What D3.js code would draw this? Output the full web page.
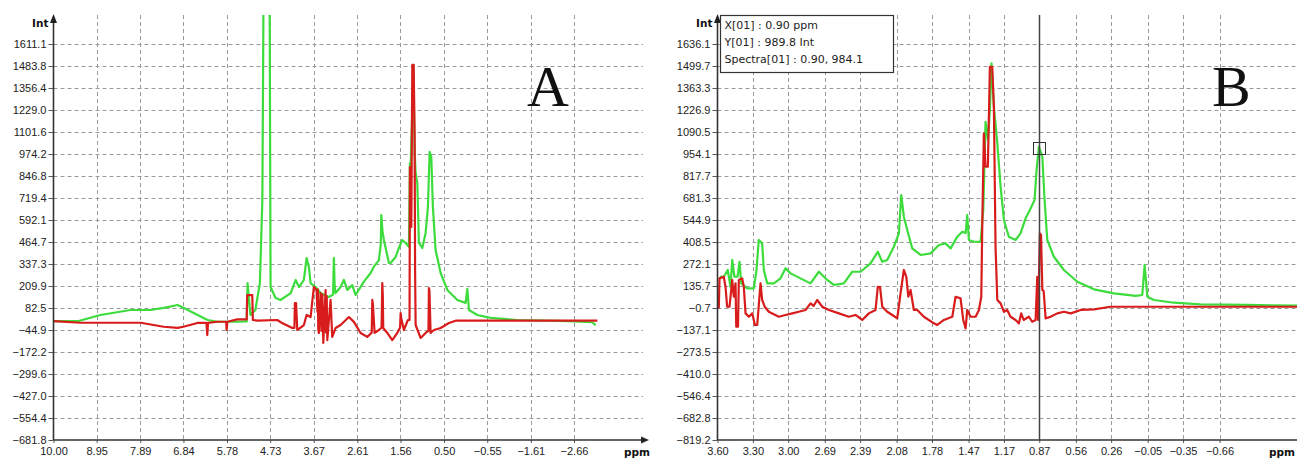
<!DOCTYPE html>
<html>
<head>
<meta charset="utf-8">
<script src="https://cdn.jsdelivr.net/npm/d3@7"></script>
<style>
  body { margin: 0; background: #fff; }
  svg { display: block; font-family: 'DejaVu Sans', sans-serif; }
  .tick text { fill: #222; font-size: 11px; }
  .tick line { stroke: #555; }
  .grid line { stroke: #9a9a9a; stroke-width: 1; stroke-dasharray: 4 3; }
  .axis-line { stroke: #333; stroke-width: 1.6; }
  .spec { fill: none; stroke-width: 2.2; stroke-linejoin: round; }
  .green { stroke: #3cdc3c; }
  .red { stroke: #d81c1c; }
</style>
</head>
<body>
<div class="container"></div>
<script>
// tick labels as printed on both panels
const leftPpmTicks = [10.00, 8.95, 7.89, 6.84, 5.78, 4.73, 3.67, 2.61, 1.56, 0.50, -0.55, -1.61, -2.66]
const leftIntTicks = [1611.1, 1483.8, 1356.4, 1229.0, 1101.6, 974.2, 846.8, 719.4, 592.1, 464.7, 337.3, 209.9, 82.5, -44.9, -172.2, -299.6, -427.0, -554.4, -681.8]
const rightPpmTicks = [3.60, 3.30, 3.00, 2.69, 2.39, 2.08, 1.78, 1.47, 1.17, 0.87, 0.56, 0.26, -0.05, -0.35, -0.66]
const rightIntTicks = [1636.1, 1499.7, 1363.3, 1226.9, 1090.5, 954.1, 817.7, 681.3, 544.9, 408.5, 272.1, 135.7, -0.7, -137.1, -273.5, -410.0, -546.4, -682.8, -819.2]

// spectra, [ppm, intensity]
const leftGreen = [
  [10.00, 7], [9.39, 7], [8.86, 42], [8.13, 71], [7.64, 71], [7.32, 83], [6.98, 100], [6.84, 84], [6.59, 54],
  [6.25, 13], [6.01, 3], [5.52, 3], [5.30, 5], [5.28, 227], [5.21, 42], [5.09, 71], [4.98, 227], [4.92, 708],
  [4.88, 2400], [4.75, 2400], [4.72, 204], [4.60, 140], [4.48, 129], [4.23, 169], [4.11, 245], [4.03, 204],
  [3.91, 245], [3.844, 372], [3.788, 320], [3.747, 227], [3.626, 204], [3.504, 169], [3.302, 146], [3.20, 160],
  [3.180, 372], [3.160, 200], [3.139, 169], [3.017, 204], [2.937, 245], [2.855, 187], [2.733, 215], [2.652, 158],
  [2.450, 235], [2.287, 285], [2.207, 322], [2.085, 360], [2.04, 450], [2.027, 621], [2.00, 530], [1.964, 476],
  [1.842, 343], [1.801, 343], [1.679, 378], [1.599, 430], [1.516, 476], [1.436, 459], [1.355, 437], [1.331, 922],
  [1.314, 899], [1.270, 1250], [1.248, 1490], [1.217, 1000], [1.192, 864], [1.151, 806], [1.112, 459], [1.030, 430],
  [0.949, 517], [0.893, 667], [0.852, 986], [0.811, 957], [0.772, 667], [0.706, 418], [0.584, 285], [0.421, 187],
  [0.178, 129], [-0.024, 112], [-0.066, 193], [-0.105, 71], [-0.309, 42], [-0.633, 25], [-1.282, 13], [-2.499, 7],
  [-3.10, 0], [-3.187, -16]
]
const leftRed = [
  [10.00, 7], [9.34, -3], [7.88, -3], [7.32, -26], [6.98, -33], [6.84, -26], [6.50, -4], [6.28, -4], [6.26, -74],
  [6.24, -4], [6.02, 3], [5.80, 3], [5.79, -45], [5.77, 3], [5.53, 17], [5.30, 17], [5.29, 157], [5.165, 157],
  [5.151, 13], [5.04, 9], [4.56, 13], [4.44, -4], [4.19, -33], [4.14, -33], [4.129, 111], [4.10, 111], [4.071, -45],
  [3.91, -16], [3.844, 42], [3.747, 30], [3.667, 204], [3.601, 186], [3.58, 60], [3.57, 190], [3.56, -40],
  [3.545, -62], [3.504, 169], [3.48, -50], [3.46, 160], [3.438, -120], [3.382, 186], [3.37, -60], [3.355, 150],
  [3.341, -103], [3.261, 129], [3.220, -85], [3.139, -33], [3.017, -16], [2.815, 30], [2.694, 2],
  [2.531, -62], [2.368, -85], [2.26, -60], [2.246, 129], [2.23, 100], [2.190, -62], [2.085, -45], [2.02, -30],
  [2.003, 227], [1.99, 150], [1.98, -33], [1.881, -62], [1.760, -103], [1.638, -62], [1.57, -30], [1.557, 53],
  [1.54, 20], [1.477, -45], [1.380, 13], [1.34, 13], [1.331, 899], [1.314, 700], [1.297, 552], [1.273, 1490],
  [1.240, 1490], [1.217, 1096], [1.205, 300], [1.192, -16], [1.071, -91], [0.949, -62], [0.88, -50], [0.869, 198],
  [0.855, 180], [0.828, -62], [0.747, -45], [0.584, -33], [0.383, -4], [0.219, 9], [-3.228, 9]
]
const rightGreen = [
  [3.580, 193], [3.547, 193], [3.513, 235], [3.490, 131], [3.475, 297], [3.456, 193], [3.430, 193], [3.413, 286],
  [3.399, 152], [3.348, 121], [3.292, 121], [3.269, 235], [3.250, 421], [3.221, 400], [3.207, 235], [3.178, 152],
  [3.122, 152], [3.065, 183], [3.023, 245], [2.980, 214], [2.896, 183], [2.811, 152], [2.740, 224], [2.669, 173],
  [2.613, 142], [2.528, 152], [2.457, 224], [2.386, 224], [2.302, 276], [2.240, 348], [2.202, 286], [2.160, 297],
  [2.104, 379], [2.061, 462], [2.041, 700], [2.019, 565], [1.990, 483], [1.948, 369], [1.877, 328], [1.792, 338],
  [1.722, 390], [1.665, 400], [1.622, 369], [1.566, 441], [1.523, 472], [1.495, 464], [1.481, 576], [1.467, 421],
  [1.425, 410], [1.368, 410], [1.345, 607], [1.326, 1154], [1.306, 1041], [1.289, 1227], [1.275, 1516], [1.255, 1247],
  [1.226, 1020], [1.198, 751], [1.170, 545], [1.128, 441], [1.071, 421], [1.029, 462], [0.986, 555], [0.943, 617],
  [0.910, 669], [0.893, 855], [0.873, 1000], [0.844, 937], [0.825, 669], [0.802, 421], [0.746, 317], [0.661, 235],
  [0.547, 162], [0.406, 115], [0.236, 90], [0.052, 74], [-0.004, 80], [-0.024, 266], [-0.047, 69], [-0.103, 49],
  [-0.273, 32], [-0.499, 22], [-0.896, 18], [-1.49, 12]
]
const rightRed = [
  [3.589, -3], [3.583, 183], [3.547, 193], [3.532, 131], [3.518, 7], [3.498, 7], [3.475, 173], [3.462, 69],
  [3.447, 152], [3.441, -117], [3.426, -117], [3.419, 173], [3.390, 183], [3.377, 131], [3.362, -34], [3.334, -55],
  [3.305, -34], [3.283, -106], [3.263, -106], [3.235, 152], [3.221, 49], [3.199, 7], [3.165, -24], [3.080, -55],
  [3.023, -44], [2.966, -34], [2.910, -24], [2.853, -13], [2.811, 28], [2.785, 12], [2.754, 49], [2.711, 7],
  [2.655, -13], [2.570, -34], [2.486, -55], [2.429, -44], [2.372, -75], [2.316, -34], [2.259, -13], [2.240, 131],
  [2.221, 129], [2.202, 7], [2.160, -24], [2.117, -44], [2.075, -65], [2.047, 90], [2.019, 235], [1.998, 192],
  [1.981, 69], [1.962, 111], [1.934, -13], [1.905, -13], [1.849, -55], [1.764, -96], [1.735, -106], [1.679, -75],
  [1.608, -55], [1.580, 69], [1.538, 59], [1.515, -75], [1.495, -127], [1.481, -13], [1.453, -55], [1.410, -55],
  [1.382, -13], [1.362, 69], [1.353, 545], [1.340, 1082], [1.326, 875], [1.306, 875], [1.289, 1495], [1.269, 1495],
  [1.255, 1247], [1.241, 379], [1.226, 49], [1.198, 28], [1.170, -24], [1.142, -13], [1.114, -55], [1.071, -75],
  [1.043, -96], [1.023, -34], [1.003, -75], [0.958, -55], [0.930, -86], [0.901, -75], [0.887, 193], [0.880, -75],
  [0.865, 462], [0.855, 452], [0.844, 111], [0.833, 105], [0.816, -65], [0.774, -55], [0.717, -34], [0.661, -24],
  [0.603, -34], [0.519, -13], [0.406, -9], [0.265, 7], [-1.49, 7]
]

const cursor = { ppm: 0.875, value: 989.8 }
const readout = ['X[01] : 0.90 ppm', 'Y[01] : 989.8 Int', 'Spectra[01] : 0.90, 984.1']

class SpectrumPanel {
  constructor(svg, name) {
    this.svg = svg
    this.name = name
    this.top = 15
    this.bottom = 440
  }

  frame(left, lastTickX, right, ppmLabelX) {
    this.left = left
    this.lastTickX = lastTickX
    this.right = right
    this.ppmLabelX = ppmLabelX
  }

  ticks(ppmTicks, intTicks) {
    this.ppmTicks = ppmTicks
    this.intTicks = intTicks
  }

  render(series, letter, letterX) {
    const g = this.svg.append('g').attr('class', `panel ${ this.name }`)

    this.x = d3.scaleLinear()
      .domain([this.ppmTicks[0], this.ppmTicks[this.ppmTicks.length - 1]])
      .range([this.left, this.lastTickX])
    this.y = d3.scaleLinear()
      .domain([d3.min(this.intTicks), d3.max(this.intTicks)])
      .range([this.bottom, 44])

    const grid = g.append('g').attr('class', 'grid')
    grid.selectAll('line.h').data(this.intTicks.slice(0, -1))
      .enter().append('line').attr('class', 'h')
      .attr('x1', this.left).attr('x2', this.right)
      .attr('y1', d => Math.round(this.y(d)) + 0.5).attr('y2', d => Math.round(this.y(d)) + 0.5)
    grid.selectAll('line.v').data(this.ppmTicks.slice(1))
      .enter().append('line').attr('class', 'v')
      .attr('x1', d => Math.round(this.x(d)) + 0.5).attr('x2', d => Math.round(this.x(d)) + 0.5)
      .attr('y1', this.top).attr('y2', this.bottom)

    g.append('clipPath').attr('id', `clip-${ this.name }`)
      .append('rect')
      .attr('x', this.left).attr('y', this.top)
      .attr('width', this.right - this.left).attr('height', this.bottom - this.top)

    const line = d3.line().x(d => this.x(d[0])).y(d => this.y(d[1]))
    const plot = g.append('g').attr('clip-path', `url(#clip-${ this.name })`)
    series.forEach(s => {
      plot.append('path').datum(s.values).attr('class', `spec ${ s.cls }`).attr('d', line)
    })

    const yAxis = d3.axisLeft(this.y).tickValues(this.intTicks)
      .tickFormat(d3.format('.1f')).tickSize(5).tickSizeOuter(0).tickPadding(2)
    const yg = g.append('g').attr('transform', `translate(${ this.left }, 0)`).call(yAxis)
    yg.select('.domain').remove()

    const xAxis = d3.axisBottom(this.x).tickValues(this.ppmTicks)
      .tickFormat(d3.format('.2f')).tickSize(3).tickSizeOuter(0).tickPadding(4)
    const xg = g.append('g').attr('transform', `translate(0, ${ this.bottom })`).call(xAxis)
    xg.select('.domain').remove()

    g.append('line').attr('class', 'axis-line')
      .attr('x1', this.left).attr('x2', this.left).attr('y1', this.bottom).attr('y2', 20)
    g.append('line').attr('class', 'axis-line')
      .attr('x1', this.left).attr('x2', this.right + 1).attr('y1', this.bottom).attr('y2', this.bottom)
    g.append('path').attr('fill', '#222')
      .attr('d', `M${ this.left },14 L${ this.left - 3.5 },23 L${ this.left + 3.5 },23 Z`)
    g.append('path').attr('fill', '#222')
      .attr('d', `M${ this.right + 6 },${ this.bottom } L${ this.right - 2 },${ this.bottom - 3.5 } L${ this.right - 2 },${ this.bottom + 3.5 } Z`)

    g.append('text').text('Int')
      .attr('x', this.left - 5).attr('y', 27).attr('text-anchor', 'end')
      .attr('font-size', 10.5).attr('font-weight', 'bold').attr('fill', '#111')
    g.append('text').text('ppm')
      .attr('x', this.ppmLabelX).attr('y', 456)
      .attr('font-size', 10.5).attr('font-weight', 'bold').attr('fill', '#111')

    g.append('text').text(letter)
      .attr('x', letterX).attr('y', 106)
      .attr('font-family', "'Liberation Serif', 'Times New Roman', serif")
      .attr('font-size', 58).attr('fill', '#111')

    return g
  }

  cursor(c, lines) {
    const g = this.svg.select(`g.panel.${ this.name }`)
    const cx = Math.round(this.x(c.ppm)) + 0.5
    g.append('line')
      .attr('x1', cx).attr('x2', cx).attr('y1', this.top).attr('y2', this.bottom)
      .attr('stroke', '#444').attr('stroke-width', 1.5)
    g.append('rect')
      .attr('x', cx - 6).attr('y', Math.round(this.y(c.value)) - 5.5)
      .attr('width', 12).attr('height', 12)
      .attr('fill', 'none').attr('stroke', '#333').attr('stroke-width', 1)

    const box = g.append('g').attr('transform', `translate(${ this.left + 3 }, 15.5)`)
    box.append('rect')
      .attr('width', 173).attr('height', 57)
      .attr('fill', '#fff').attr('stroke', '#333').attr('stroke-width', 1.2)
    box.selectAll('text').data(lines).enter().append('text')
      .attr('x', 4).attr('y', (d, i) => 13 + i * 17.3)
      .attr('font-size', 11).attr('fill', '#222')
      .text(d => d)
  }
}

const svg = d3.select('.container').append('svg')
  .attr('width', 1297).attr('height', 460)

const panelA = new SpectrumPanel(svg, 'a')
panelA.frame(53.5, 574, 643, 624)
panelA.ticks(leftPpmTicks, leftIntTicks)
panelA.render([{ values: leftGreen, cls: 'green' }, { values: leftRed, cls: 'red' }], 'A', 527)

const panelB = new SpectrumPanel(svg, 'b')
panelB.frame(717.5, 1219.6, 1307, 1269)
panelB.ticks(rightPpmTicks, rightIntTicks)
panelB.render([{ values: rightGreen, cls: 'green' }, { values: rightRed, cls: 'red' }], 'B', 1212)
panelB.cursor(cursor, readout)
</script>
</body>
</html>
